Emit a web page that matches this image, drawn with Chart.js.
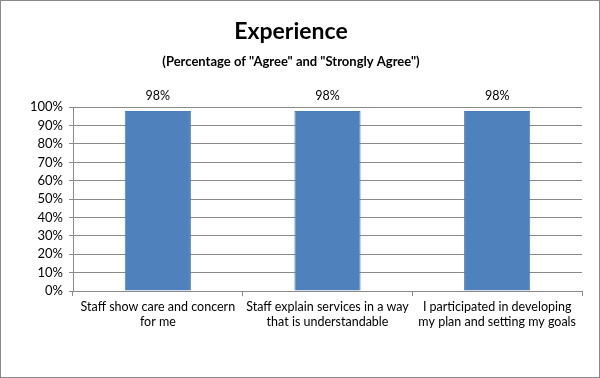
<!DOCTYPE html>
<html lang="en">
<head>
    <meta charset="UTF-8">
    <title>Experience</title>
    <style>
        html, body { margin: 0; padding: 0; background: #fff; }
        .wrap { width: 600px; height: 378px; position: relative; }
    </style>
    <script src="https://cdn.jsdelivr.net/npm/chart.js"></script>
</head>
<body>
    <div class="wrap"><canvas id="myChart" width="600" height="378"></canvas></div>
    <script>
        const categories = [
            ['Staff show care and concern', 'for me'],
            ['Staff explain services in a way', 'that is understandable'],
            ['I participated in developing', 'my plan and setting my goals']
        ];
        const agreeValues = [98, 98, 98];
        const yTicks = [0, 10, 20, 30, 40, 50, 60, 70, 80, 90, 100];

        const fontFamily = 'Lato, "Open Sans", sans-serif';

        // frame around the whole picture
        const framePlugin = {
            id: 'frame',
            beforeDraw(chart) {
                const ctx = chart.ctx;
                ctx.save();
                ctx.fillStyle = '#fff';
                ctx.fillRect(0, 0, chart.width, chart.height);
                ctx.strokeStyle = '#8a8a8a';
                ctx.lineWidth = 1;
                ctx.strokeRect(0.5, 0.5, chart.width - 1, chart.height - 1);
                ctx.restore();
            }
        };

        // value labels above each bar
        const labelPlugin = {
            id: 'barLabels',
            afterDatasetsDraw(chart) {
                const ctx = chart.ctx;
                const meta = chart.getDatasetMeta(0);
                ctx.save();
                ctx.font = '12.5px ' + fontFamily;
                ctx.fillStyle = '#000';
                ctx.textAlign = 'center';
                ctx.textBaseline = 'bottom';
                meta.data.forEach((bar, i) => {
                    ctx.fillText(agreeValues[i] + '%', bar.x, bar.y - 9);
                });
                ctx.restore();
            }
        };

        const ctx = document.getElementById('myChart').getContext('2d');
        new Chart(ctx, {
            type: 'bar',
            data: {
                labels: categories,
                datasets: [{
                    data: agreeValues,
                    backgroundColor: '#4F81BD',
                    borderColor: '#4A7EBB',
                    borderWidth: 1,
                    categoryPercentage: 1,
                    barPercentage: 0.39
                }]
            },
            options: {
                responsive: false,
                animation: false,
                layout: { padding: { left: 0, right: 18, top: 0, bottom: 0 } },
                plugins: {
                    legend: { display: false },
                    tooltip: { enabled: false },
                    title: {
                        display: true,
                        text: 'Experience',
                        color: '#000',
                        font: { family: fontFamily, size: 23, weight: 'bold' },
                        padding: { top: 18, bottom: 8 }
                    },
                    subtitle: {
                        display: true,
                        text: '(Percentage of "Agree" and "Strongly Agree")',
                        color: '#000',
                        font: { family: fontFamily, size: 13, weight: 'bold' },
                        padding: { top: 0, bottom: 38 }
                    }
                },
                scales: {
                    x: {
                        grid: {
                            offset: true,
                            drawOnChartArea: false,
                            drawTicks: true,
                            tickLength: 5,
                            color: '#8a8a8a'
                        },
                        border: { color: '#8a8a8a' },
                        ticks: {
                            color: '#000',
                            font: { family: fontFamily, size: 12.5, lineHeight: 1.25 },
                            maxRotation: 0,
                            autoSkip: false,
                            padding: 3
                        },
                        afterFit(scale) { scale.height = 87; }
                    },
                    y: {
                        min: 0,
                        max: 100,
                        afterBuildTicks(scale) {
                            scale.ticks = yTicks.map(v => ({ value: v }));
                        },
                        grid: {
                            color: '#8a8a8a',
                            tickLength: 4
                        },
                        border: { color: '#8a8a8a' },
                        ticks: {
                            color: '#000',
                            font: { family: fontFamily, size: 13 },
                            padding: 6,
                            autoSkip: false,
                            callback: v => v + '%'
                        },
                        afterFit(scale) { scale.width = 73; }
                    }
                }
            },
            plugins: [framePlugin, labelPlugin]
        });
    </script>
</body>
</html>
